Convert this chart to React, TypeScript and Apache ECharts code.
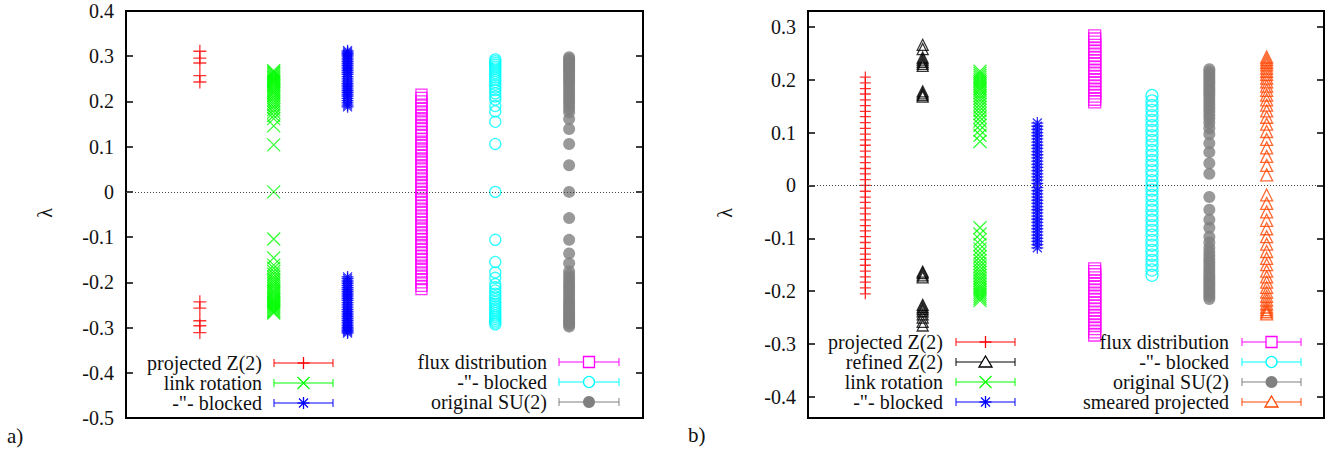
import React, { useEffect, useRef } from "react";
import * as echarts from "echarts";

// ---------- Panel a data ----------
const posA = [1, 2, 3, 4, 5, 6];
const redA = [0.311, 0.296, 0.285, 0.257, 0.243, -0.243, -0.257, -0.285, -0.296, -0.311];
const greenA = [
  0.268, 0.265, 0.262, 0.259, 0.256, 0.253, 0.25, 0.247, 0.244, 0.241, 0.238, 0.234, 0.23, 0.226,
  0.222, 0.218, 0.213, 0.208, 0.203, 0.198, 0.193, 0.188, 0.182, 0.176, 0.169, 0.162, 0.146, 0.104,
  0,
  -0.104, -0.146, -0.162, -0.169, -0.176, -0.182, -0.188, -0.193, -0.198, -0.203, -0.208, -0.213,
  -0.218, -0.222, -0.226, -0.23, -0.234, -0.238, -0.241, -0.244, -0.247, -0.25, -0.253, -0.256,
  -0.259, -0.262, -0.265, -0.268,
];
const blueA = [
  0.312, 0.309, 0.306, 0.303, 0.3, 0.296, 0.292, 0.288, 0.284, 0.28, 0.276, 0.272, 0.268, 0.264,
  0.26, 0.255, 0.25, 0.245, 0.24, 0.236, 0.232, 0.228, 0.224, 0.22, 0.216, 0.212, 0.207, 0.202,
  0.197, 0.192, 0.188,
  -0.188, -0.192, -0.197, -0.202, -0.207, -0.212, -0.216, -0.22, -0.224, -0.228, -0.232, -0.236,
  -0.24, -0.245, -0.25, -0.255, -0.26, -0.264, -0.268, -0.272, -0.276, -0.28, -0.284, -0.288,
  -0.292, -0.296, -0.3, -0.303, -0.306, -0.309, -0.312,
];
const magentaA = [
  0.215, 0.208, 0.2, 0.193, 0.185, 0.178, 0.17, 0.163, 0.156, 0.148, 0.141, 0.133, 0.126, 0.118,
  0.111, 0.104, 0.096, 0.089, 0.081, 0.074, 0.067, 0.059, 0.052, 0.044, 0.037, 0.03, 0.022, 0.015,
  0.007, 0, -0.007, -0.015, -0.022, -0.03, -0.037, -0.044, -0.052, -0.059, -0.067, -0.074, -0.081,
  -0.089, -0.096, -0.104, -0.111, -0.118, -0.126, -0.133, -0.141, -0.148, -0.156, -0.163, -0.17,
  -0.178, -0.185, -0.193, -0.2, -0.208, -0.215,
];
const cyanA = [
  0.293, 0.289, 0.285, 0.281, 0.277, 0.273, 0.268, 0.263, 0.258, 0.253, 0.248, 0.243, 0.237, 0.231,
  0.225, 0.218, 0.211, 0.204, 0.19, 0.178, 0.155, 0.106,
  0,
  -0.106, -0.155, -0.178, -0.19, -0.204, -0.211, -0.218, -0.225, -0.231, -0.237, -0.243, -0.248,
  -0.253, -0.258, -0.263, -0.268, -0.273, -0.277, -0.281, -0.285, -0.289, -0.293,
];
const grayA = [
  0.298, 0.294, 0.29, 0.286, 0.282, 0.278, 0.274, 0.27, 0.265, 0.26, 0.255, 0.25, 0.245, 0.24,
  0.234, 0.228, 0.222, 0.216, 0.21, 0.204, 0.198, 0.191, 0.184, 0.176, 0.161, 0.139, 0.106, 0.059,
  0, -0.058, -0.106, -0.136, -0.158, -0.176, -0.184, -0.191, -0.198, -0.204, -0.21, -0.216, -0.222,
  -0.228, -0.234, -0.24, -0.245, -0.25, -0.255, -0.26, -0.265, -0.27, -0.274, -0.278, -0.282,
  -0.286, -0.29, -0.294, -0.298,
];

// ---------- Panel b data ----------
const posB = [1, 2, 3, 4, 5, 6, 7, 8];
const redB = [
  0.205, 0.194, 0.183, 0.173, 0.162, 0.151, 0.14, 0.13, 0.119, 0.108, 0.097, 0.086, 0.076, 0.065,
  0.054, 0.043, 0.032, 0.022, 0.011, 0, -0.011, -0.022, -0.032, -0.043, -0.054, -0.065, -0.076,
  -0.086, -0.097, -0.108, -0.119, -0.13, -0.14, -0.151, -0.162, -0.173, -0.183, -0.194, -0.205,
];
const blackB = [
  0.266, 0.258, 0.242, 0.238, 0.234, 0.23, 0.226, 0.178, 0.174, 0.171, 0.168,
  -0.163, -0.166, -0.17, -0.174, -0.226, -0.23, -0.234, -0.238, -0.244, -0.25, -0.258, -0.265,
];
const greenB = [
  0.216, 0.212, 0.208, 0.204, 0.2, 0.196, 0.192, 0.188, 0.184, 0.18, 0.175, 0.17, 0.165, 0.16,
  0.154, 0.148, 0.142, 0.136, 0.129, 0.122, 0.114, 0.105, 0.095, 0.083,
  -0.08, -0.092, -0.103, -0.112, -0.12, -0.128, -0.135, -0.142, -0.148, -0.154, -0.16, -0.165,
  -0.17, -0.175, -0.18, -0.185, -0.19, -0.194, -0.198, -0.202, -0.206, -0.21, -0.214, -0.218,
];
const blueB = [
  0.118, 0.112, 0.106, 0.1, 0.094, 0.088, 0.082, 0.076, 0.07, 0.064, 0.058, 0.052, 0.046, 0.04,
  0.034, 0.028, 0.022, 0.016, 0.01, 0.004, -0.004, -0.01, -0.016, -0.022, -0.028, -0.034, -0.04,
  -0.046, -0.052, -0.058, -0.064, -0.07, -0.076, -0.082, -0.088, -0.094, -0.1, -0.106, -0.112,
  -0.118,
];
const magentaB = [
  0.283, 0.277, 0.271, 0.265, 0.259, 0.253, 0.247, 0.241, 0.235, 0.229, 0.223, 0.217, 0.211, 0.205,
  0.199, 0.193, 0.187, 0.181, 0.175, 0.169, 0.163, 0.158,
  -0.158, -0.163, -0.169, -0.175, -0.181, -0.187, -0.193, -0.199, -0.205, -0.211, -0.217, -0.223,
  -0.229, -0.235, -0.241, -0.247, -0.253, -0.259, -0.265, -0.271, -0.277, -0.283,
];
const cyanB = [
  0.17, 0.16, 0.151, 0.142, 0.132, 0.123, 0.113, 0.104, 0.094, 0.085, 0.076, 0.066, 0.057, 0.047,
  0.038, 0.028, 0.019, 0.009, 0, -0.009, -0.019, -0.028, -0.038, -0.047, -0.057, -0.066, -0.076,
  -0.085, -0.094, -0.104, -0.113, -0.123, -0.132, -0.142, -0.151, -0.16, -0.17,
];
const grayB = [
  0.22, 0.215, 0.21, 0.205, 0.2, 0.195, 0.19, 0.185, 0.18, 0.175, 0.17, 0.164, 0.158, 0.152, 0.146,
  0.14, 0.133, 0.126, 0.118, 0.108, 0.097, 0.08, 0.063, 0.042, 0.022,
  -0.022, -0.046, -0.065, -0.08, -0.097, -0.108, -0.118, -0.126, -0.133, -0.14, -0.146, -0.152,
  -0.158, -0.164, -0.17, -0.175, -0.18, -0.185, -0.19, -0.195, -0.2, -0.205, -0.21, -0.215,
];
const orangeB = [
  0.243, 0.238, 0.233, 0.228, 0.222, 0.216, 0.21, 0.203, 0.196, 0.188, 0.18, 0.171, 0.162, 0.152,
  0.141, 0.129, 0.116, 0.102, 0.087, 0.071, 0.055, 0.038, 0.02,
  -0.018, -0.034, -0.05, -0.066, -0.082, -0.097, -0.111, -0.125, -0.138, -0.15, -0.162, -0.173,
  -0.183, -0.193, -0.202, -0.21, -0.217, -0.224, -0.23, -0.235, -0.239, -0.243,
];

const ticksA = [-0.5, -0.4, -0.3, -0.2, -0.1, 0, 0.1, 0.2, 0.3, 0.4];
const ticksB = [-0.4, -0.3, -0.2, -0.1, 0, 0.1, 0.2, 0.3];

const namesA = ["projected Z(2)", "link rotation", "-\"- blocked", "flux distribution", "-\"- blocked", "original SU(2)"];
const namesB = [
  "projected Z(2)", "refined Z(2)", "link rotation", "-\"- blocked",
  "flux distribution", "-\"- blocked", "original SU(2)", "smeared projected",
];

const FONT = "'Liberation Serif', 'Times New Roman', serif";
const FS = 20;
const MLW = 1.3;

type MarkerKind = "plus" | "cross" | "star" | "square" | "circle" | "dot" | "triangle";

const SYMBOLS: Record<string, string> = {
  plus: "path://M0,6H12M6,0V12",
  cross: "path://M0,0L12,12M0,12L12,0",
  star: "path://M0,6H12M6,0V12M1.5,1.5L10.5,10.5M1.5,10.5L10.5,1.5",
};

function makeSeries(
  name: string, kind: MarkerKind, color: string, x: number, values: number[],
  axis: number, size: number
): any {
  let symbol: string;
  let itemStyle: any;
  if (kind === "plus" || kind === "cross" || kind === "star") {
    symbol = SYMBOLS[kind];
    itemStyle = { color: "transparent", borderColor: color, borderWidth: MLW };
  } else if (kind === "dot") {
    symbol = "circle";
    itemStyle = { color, borderWidth: 0 };
  } else {
    symbol = kind === "square" ? "rect" : kind;
    itemStyle = { color: "transparent", borderColor: color, borderWidth: MLW };
  }
  return {
    name,
    type: "scatter",
    xAxisIndex: axis,
    yAxisIndex: axis * 2,
    symbol,
    symbolSize: size,
    itemStyle,
    emphasis: { disabled: true },
    data: values.map((v) => [x, v]),
  };
}

function legendMarker(kind: MarkerKind, color: string, cx: number, cy: number): any[] {
  const ln = (x1: number, y1: number, x2: number, y2: number) => ({
    type: "line",
    shape: { x1, y1, x2, y2 },
    style: { stroke: color, lineWidth: MLW },
    z: 20,
  });
  switch (kind) {
    case "plus":
      return [ln(cx - 6, cy, cx + 6, cy), ln(cx, cy - 6, cx, cy + 6)];
    case "cross":
      return [ln(cx - 6, cy - 6, cx + 6, cy + 6), ln(cx - 6, cy + 6, cx + 6, cy - 6)];
    case "star":
      return [
        ln(cx - 6, cy, cx + 6, cy), ln(cx, cy - 6, cx, cy + 6),
        ln(cx - 4.5, cy - 4.5, cx + 4.5, cy + 4.5), ln(cx - 4.5, cy + 4.5, cx + 4.5, cy - 4.5),
      ];
    case "square":
      return [{ type: "rect", shape: { x: cx - 5.5, y: cy - 5.5, width: 11, height: 11 }, style: { fill: "#fff", stroke: color, lineWidth: MLW }, z: 20 }];
    case "circle":
      return [{ type: "circle", shape: { cx, cy, r: 5.5 }, style: { fill: "#fff", stroke: color, lineWidth: MLW }, z: 20 }];
    case "dot":
      return [{ type: "circle", shape: { cx, cy, r: 6 }, style: { fill: color }, z: 20 }];
    case "triangle":
      return [{ type: "polygon", shape: { points: [[cx, cy - 6], [cx + 6.5, cy + 5], [cx - 6.5, cy + 5]] }, style: { fill: "#fff", stroke: color, lineWidth: MLW }, z: 20 }];
  }
  return [];
}

function legendItem(text: string, kind: MarkerKind, color: string, textRight: number, y: number, sx1: number, sx2: number): any[] {
  const out: any[] = [
    { type: "text", x: textRight, y, style: { text, font: `${FS}px ${FONT}`, fill: "#111", align: "right", verticalAlign: "middle" }, z: 20 },
    { type: "line", shape: { x1: sx1, y1: y, x2: sx2, y2: y }, style: { stroke: color, lineWidth: 1 }, z: 19 },
    { type: "line", shape: { x1: sx1, y1: y - 4, x2: sx1, y2: y + 4 }, style: { stroke: color, lineWidth: 1 }, z: 19 },
    { type: "line", shape: { x1: sx2, y1: y - 4, x2: sx2, y2: y + 4 }, style: { stroke: color, lineWidth: 1 }, z: 19 },
  ];
  return out.concat(legendMarker(kind, color, (sx1 + sx2) / 2, y));
}

const kindsA: MarkerKind[] = ["plus", "cross", "star", "square", "circle", "dot"];
const colorsA = ["#ff0000", "#00ff00", "#0000ff", "#ff00ff", "#00ffff", "#808080"];
const sizesA = [13, 13, 12, 11, 11, 12];
const valuesA = [redA, greenA, blueA, magentaA, cyanA, grayA];

const kindsB: MarkerKind[] = ["plus", "triangle", "cross", "star", "square", "circle", "dot", "triangle"];
const colorsB = ["#ff0000", "#000000", "#00ff00", "#0000ff", "#ff00ff", "#00ffff", "#808080", "#ff4500"];
const sizesB = [11, 11, 13, 12, 12, 12, 12, 12];
const valuesB = [redB, blackB, greenB, blueB, magentaB, cyanB, grayB, orangeB];

function fmt(v: number): string {
  if (Math.abs(v) < 1e-9) return "0";
  return v.toFixed(1);
}

function yAxes(gridIndex: number, min: number, max: number, ticks: number[]): any[] {
  const base = {
    type: "value",
    gridIndex,
    min,
    max,
    splitLine: { show: false },
    axisLine: { show: false },
  };
  return [
    {
      ...base,
      position: "left",
      axisTick: { show: true, inside: true, length: 7, lineStyle: { color: "#000", width: 1.5 }, customValues: ticks },
      axisLabel: { show: true, customValues: ticks, formatter: fmt, color: "#111", fontSize: FS, fontFamily: FONT, margin: 12 },
    },
    {
      ...base,
      position: "right",
      axisTick: { show: true, inside: true, length: 7, lineStyle: { color: "#000", width: 1.5 }, customValues: ticks },
      axisLabel: { show: false, customValues: ticks },
    },
  ];
}

const zeroLine = {
  silent: true,
  symbol: ["none", "none"],
  label: { show: false },
  lineStyle: { type: [1, 2], color: "#444", width: 1 },
  emphasis: { disabled: true },
  data: [{ yAxis: 0 }],
};

export default function App() {
  const ref = useRef<HTMLDivElement>(null);
  useEffect(() => {
    if (!ref.current) return;
    const chart = echarts.init(ref.current, undefined, { renderer: "svg" });

    const series: any[] = [];
    valuesA.forEach((vals, i) => {
      series.push(makeSeries(namesA[i], kindsA[i], colorsA[i], posA[i], vals, 0, sizesA[i]));
    });
    valuesB.forEach((vals, i) => {
      series.push(makeSeries(namesB[i], kindsB[i], colorsB[i], posB[i], vals, 1, sizesB[i]));
    });
    series[0].markLine = zeroLine;
    series[valuesA.length].markLine = zeroLine;

    const graphic: any[] = [];
    const rowsA = [363, 383, 403];
    for (let i = 0; i < 3; i++) {
      graphic.push(...legendItem(namesA[i], kindsA[i], colorsA[i], 262, rowsA[i], 274, 333));
      graphic.push(...legendItem(namesA[i + 3], kindsA[i + 3], colorsA[i + 3], 547, rowsA[i] - 1, 559, 619));
    }
    const rowsB = [342, 362, 382, 402];
    for (let i = 0; i < 4; i++) {
      graphic.push(...legendItem(namesB[i], kindsB[i], colorsB[i], 943, rowsB[i], 956, 1015));
      graphic.push(...legendItem(namesB[i + 4], kindsB[i + 4], colorsB[i + 4], 1229, rowsB[i], 1242, 1301));
    }
    graphic.push(
      { type: "text", x: 45, y: 213, rotation: Math.PI / 2, style: { text: "λ", font: `${FS}px ${FONT}`, fill: "#111", align: "center", verticalAlign: "middle" } },
      { type: "text", x: 725, y: 213, rotation: Math.PI / 2, style: { text: "λ", font: `${FS}px ${FONT}`, fill: "#111", align: "center", verticalAlign: "middle" } },
      { type: "text", x: 7, y: 436, style: { text: "a)", font: `21px ${FONT}`, fill: "#111", align: "left", verticalAlign: "middle" } },
      { type: "text", x: 688, y: 435, style: { text: "b)", font: `21px ${FONT}`, fill: "#111", align: "left", verticalAlign: "middle" } }
    );

    chart.setOption({
      animation: false,
      backgroundColor: "#fff",
      grid: [
        { left: 126, top: 11, width: 517, height: 407, show: true, borderColor: "#000", borderWidth: 2, backgroundColor: "transparent" },
        { left: 808, top: 11, width: 516, height: 407, show: true, borderColor: "#000", borderWidth: 2, backgroundColor: "transparent" },
      ],
      xAxis: [
        { type: "value", gridIndex: 0, min: 0, max: 7, show: false },
        { type: "value", gridIndex: 1, min: 0, max: 9, show: false },
      ],
      yAxis: [...yAxes(0, -0.5, 0.4, ticksA), ...yAxes(1, -0.44, 0.33, ticksB)],
      series,
      graphic,
    });
    return () => chart.dispose();
  }, []);
  return <div ref={ref} style={{ position: "fixed", left: 0, top: 0, width: 1342, height: 451 }} />;
}
